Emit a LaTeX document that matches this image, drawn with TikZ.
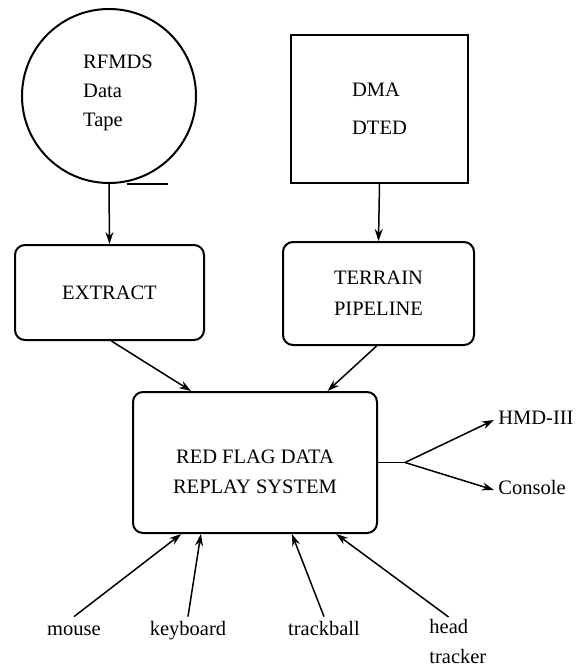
\documentclass[tikz,border=0pt]{standalone}
\usepackage{fontspec}
\setmainfont{Liberation Serif}
\usetikzlibrary{shapes,arrows.meta,positioning,calc}

\tikzset{
  box/.style={draw, line width=1pt, rounded corners=5pt, align=center},
  flow/.style={line width=0.75pt, -{Stealth[length=6pt,width=4pt]}},
  lbl/.style={inner sep=2pt, align=left, text height=0.7em, text depth=0.22em},
}

\begin{document}
\begin{tikzpicture}[x=0.5pt,y=-0.5pt,font=\fontsize{10.25}{12.3}\selectfont]
    \useasboundingbox (0,0) rectangle (577,670);

    % Data sources
    \node[draw, circle, line width=1pt, minimum size=87pt] (tape) at (109,96) {};
    \node[align=left] (tapetext) at (118,93) {RFMDS\\[2.2pt]Data\\[2.2pt]Tape};
    \draw[line width=1pt] ($(tape.south)+(18,0)$) -- ++(41,0);
    \node[draw, line width=1pt, minimum width=88.5pt, minimum height=74pt, align=left] (dted) at (379.5,109) {DMA\\[6.7pt]DTED};

    % Pre-processing
    \node[box, minimum width=94.5pt, minimum height=47.5pt] (extract) at (109.5,292.5) {EXTRACT};
    \node[box, minimum width=95.5pt, minimum height=51.5pt] (terrain) at (378.5,293.5) {TERRAIN\\[3.2pt]PIPELINE};
    \draw[flow] (tape.south) -- (extract.north);
    \draw[flow] (dted.south) -- (terrain.north);

    % Replay system
    \node[box, minimum width=122pt, minimum height=70.5pt] (replay) at (255,462.5) {};
    \node[align=center] (replaytext) at (255,472) {RED FLAG DATA\\[2.7pt]REPLAY SYSTEM};
    \draw[flow] ($(extract.south west)!0.51!(extract.south east)$) -- ($(replay.north west)!0.24!(replay.north east)$);
    \draw[flow] ($(terrain.south west)!0.49!(terrain.south east)$) -- ($(replay.north west)!0.795!(replay.north east)$);

    % Displays
    \coordinate (split) at (405,462.5);
    \node[lbl, anchor=west] (hmd) at (494,420) {HMD-III};
    \node[lbl, anchor=west] (console) at (494,490) {Console};
    \draw[line width=0.75pt] (replay.east) -- (split);
    \draw[flow] (split) -- (hmd.west);
    \draw[flow] (split) -- (console.west);

    % Input devices
    \node[lbl, anchor=base] (mouse) at (74,635) {mouse};
    \node[lbl, anchor=base] (keyboard) at (188,635) {keyboard};
    \node[lbl, anchor=base] (trackball) at (324,635) {trackball};
    \node[inner sep=1pt, align=left, anchor=north west] (head) at (427,617) {head\\[2.6pt]tracker};
    \foreach \dev/\pos in {mouse/0.2, keyboard/0.28, trackball/0.65}
        \draw[flow] (\dev.north) -- ($(replay.south west)!\pos!(replay.south east)$);
    \draw[flow] ($(head.north west)!0.35!(head.north east)$) -- ($(replay.south west)!0.83!(replay.south east)$);
\end{tikzpicture}
\end{document}
